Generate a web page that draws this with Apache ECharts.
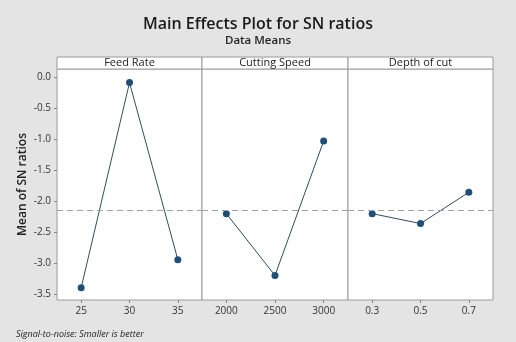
<!DOCTYPE html>
<html><head><meta charset="utf-8">
<script src="https://cdn.jsdelivr.net/npm/echarts@6/dist/echarts.min.js"></script>
<style>html,body{margin:0;padding:0;background:#e4e4e4}#c{width:516px;height:342px}</style>
</head><body><div id="c"></div>
<script>
const panelNames = ["Feed Rate", "Cutting Speed", "Depth of cut"];
const feedRateLevels = ["25", "30", "35"];
const cuttingSpeedLevels = ["2000", "2500", "3000"];
const depthLevels = ["0.3", "0.5", "0.7"];
const feedRateSN = [-3.40, -0.08, -2.945];
const cuttingSpeedSN = [-2.20, -3.20, -1.025];
const depthSN = [-2.20, -2.36, -1.855];
const overallMean = -2.14;
const yTicks = [0.0, -0.5, -1.0, -1.5, -2.0, -2.5, -3.0, -3.5];

const levels = [feedRateLevels, cuttingSpeedLevels, depthLevels];
const values = [feedRateSN, cuttingSpeedSN, depthSN];
const FONT = "Open Sans";
const lefts = [57, 202, 348];
const widths = [145, 146, 145];
const grids = [], xAxes = [], yAxes = [], series = [];
for (let i = 0; i < 3; i++) {
  grids.push({left: lefts[i], top: 69, width: widths[i], bottom: 42, show: true, backgroundColor: '#fff', borderColor: '#9a9a9a', borderWidth: 1});
  xAxes.push({type: 'category', gridIndex: i, data: levels[i], boundaryGap: true, position: 'bottom',
    axisLine: {show: false, onZero: false}, axisTick: {show: true, alignWithLabel: true, length: 3, lineStyle: {color: '#888'}},
    axisLabel: {color: '#333', fontFamily: FONT, fontSize: 10, margin: 6}, splitLine: {show: false}});
  yAxes.push({type: 'value', gridIndex: i, min: -3.597, max: 0.14, position: 'left',
    axisLine: {show: false, onZero: false},
    axisTick: {show: i === 0, length: 3, lineStyle: {color: '#888'}, customValues: yTicks},
    axisLabel: {show: i === 0, color: '#333', fontFamily: FONT, fontSize: 10, margin: 6,
      customValues: yTicks, formatter: v => v.toFixed(1)},
    splitLine: {show: false},
    name: i === 0 ? 'Mean of SN ratios' : '', nameLocation: 'middle', nameGap: 28,
    nameTextStyle: {fontFamily: FONT, fontSize: 12, fontWeight: 600, color: '#222'}});
  series.push({type: 'line', xAxisIndex: i, yAxisIndex: i, data: values[i],
    symbol: 'circle', symbolSize: 7, itemStyle: {color: '#1d4f79'},
    lineStyle: {color: '#2f4f5a', width: 1},
    markLine: {silent: true, symbol: 'none', label: {show: false},
      lineStyle: {type: [6, 4], color: '#a0a0a0', width: 1}, data: [{yAxis: overallMean}]}});
}
for (let i = 0; i < 3; i++) {
  grids.push({left: lefts[i], top: 57, width: widths[i], height: 12, show: true, backgroundColor: '#fff', borderColor: '#9a9a9a', borderWidth: 1});
  xAxes.push({type: 'category', gridIndex: 3 + i, data: [panelNames[i]], position: 'top',
    axisLine: {show: false, onZero: false}, axisTick: {show: false},
    axisLabel: {inside: true, color: '#222', fontFamily: FONT, fontSize: 11, margin: 0, verticalAlign: 'top'}});
  yAxes.push({type: 'value', gridIndex: 3 + i, show: false});
}
const chart = echarts.init(document.getElementById('c'), null, {renderer: 'canvas'});
chart.setOption({
  backgroundColor: '#e4e4e4',
  animation: false,
  title: [
    {text: 'Main Effects Plot for SN ratios', left: 'center', top: 11, textStyle: {fontFamily: FONT, fontSize: 16, fontWeight: 600, color: '#1a1a1a'}},
    {text: 'Data Means', left: 'center', top: 30, textStyle: {fontFamily: FONT, fontSize: 11.5, fontWeight: 600, color: '#222'}},
    {text: 'Signal-to-noise: Smaller is better', left: 11, top: 325, textStyle: {fontFamily: FONT, fontSize: 9, fontStyle: 'italic', fontWeight: 'normal', color: '#222'}}
  ],
  grid: grids, xAxis: xAxes, yAxis: yAxes, series: series
});
</script></body></html>
